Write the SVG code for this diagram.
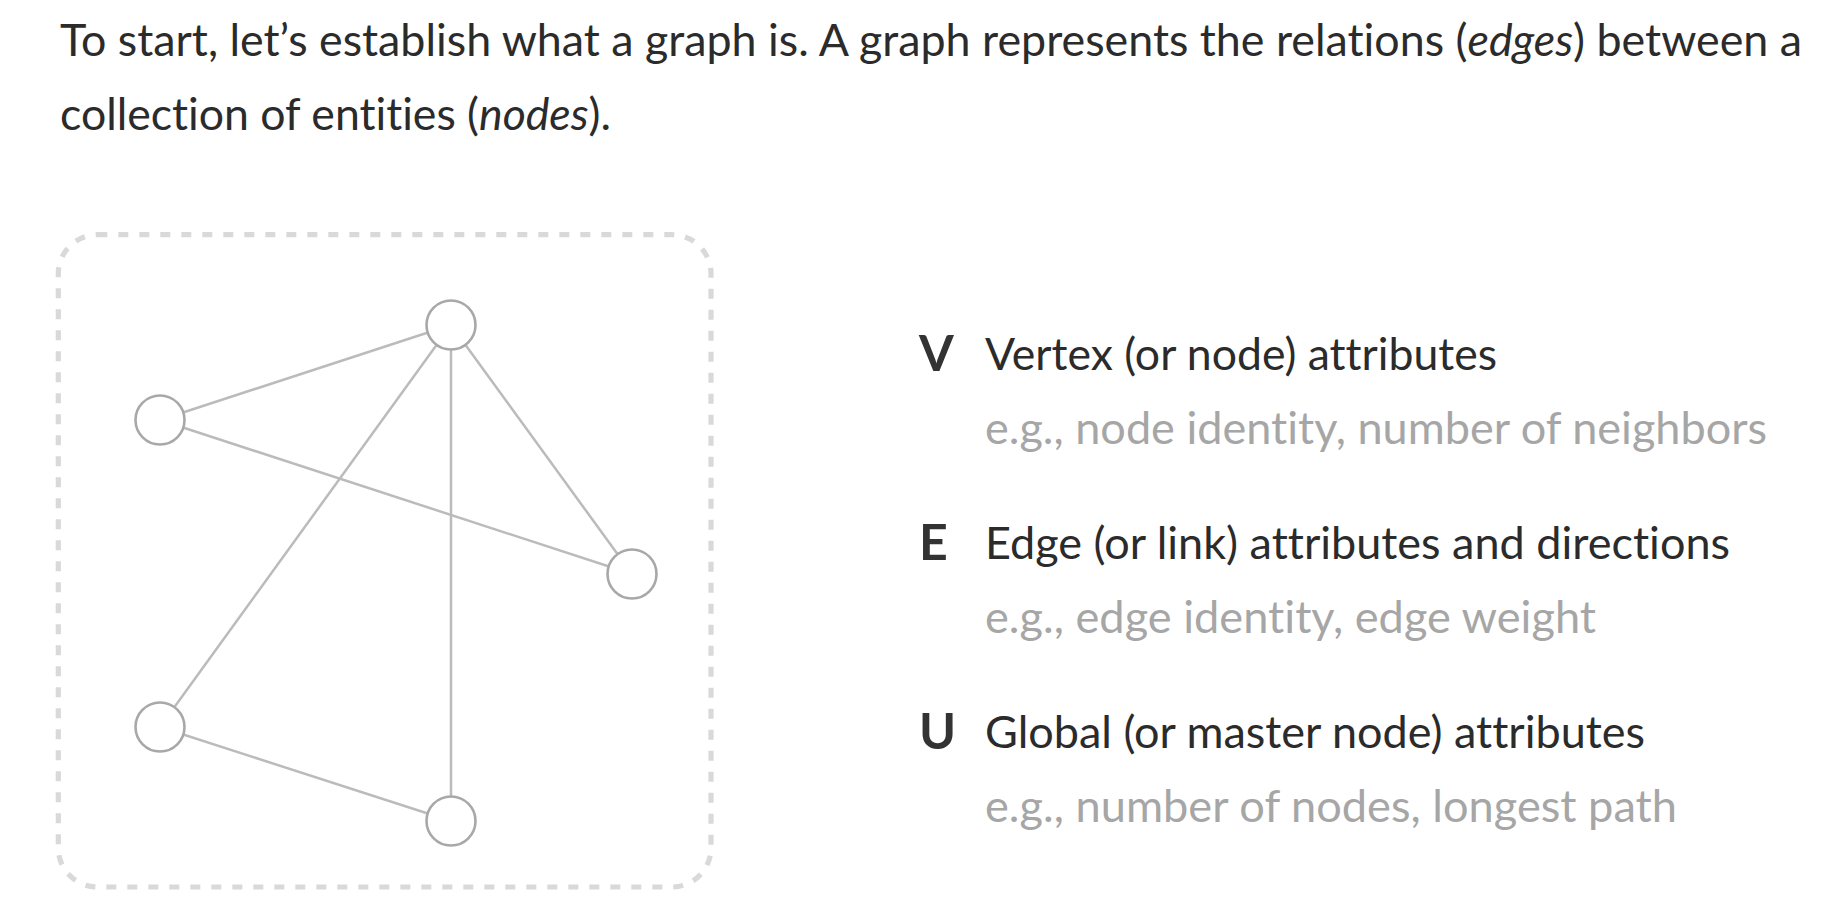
<svg xmlns="http://www.w3.org/2000/svg" width="1842" height="907" viewBox="0 0 1842 907">
  <style>
    text { font-variant-ligatures: none; font-feature-settings: "liga" 0, "clig" 0; }
    .body { font-family: Lato, "Open Sans", "Noto Sans", sans-serif; font-size: 44px; fill: #2b2b2b; }
    .hint { font-family: Lato, "Open Sans", "Noto Sans", sans-serif; font-size: 44px; fill: #a6a6a6; }
    .key { font-family: Lato, "Open Sans", "Noto Sans", sans-serif; font-size: 50px; font-weight: bold; fill: #333333; }
    .em { font-style: italic; }
    .frame { fill: none; stroke: #d9d9d9; stroke-width: 5.2; stroke-dasharray: 10 11; }
    .edge { stroke: #bbbbbb; stroke-width: 2.5; fill: none; }
    .node { fill: #ffffff; stroke: #a8a8a8; stroke-width: 2.6; }
  </style>
  <rect width="1842" height="907" fill="#ffffff"/>

  <g id="intro">
    <text class="body" x="60" y="56" textLength="1742" lengthAdjust="spacingAndGlyphs">To start, let’s establish what a graph is. A graph represents the relations (<tspan class="em">edges</tspan>) between a</text>
    <text class="body" x="60" y="130" textLength="551" lengthAdjust="spacingAndGlyphs">collection of entities (<tspan class="em">nodes</tspan>).</text>
  </g>

  <rect id="graph-frame" class="frame" x="58.3" y="234.7" width="652.7" height="652.3" rx="39" ry="39"/>

  <g id="edges">
    <line class="edge" x1="451" y1="325" x2="160" y2="420"/>
    <line class="edge" x1="160" y1="420" x2="632" y2="574"/>
    <line class="edge" x1="451" y1="325" x2="632" y2="574"/>
    <line class="edge" x1="451" y1="325" x2="160" y2="727"/>
    <line class="edge" x1="451" y1="325" x2="451" y2="821"/>
    <line class="edge" x1="160" y1="727" x2="451" y2="821"/>
  </g>

  <g id="node-top"><circle class="node" cx="451" cy="325" r="24.5"/></g>
  <g id="node-left"><circle class="node" cx="160" cy="420" r="24.5"/></g>
  <g id="node-right"><circle class="node" cx="632" cy="574" r="24.5"/></g>
  <g id="node-bottom-left"><circle class="node" cx="160" cy="727" r="24.5"/></g>
  <g id="node-bottom"><circle class="node" cx="451" cy="821" r="24.5"/></g>

  <g id="legend-v">
    <text class="key" x="919" y="371">V</text>
    <text class="body" x="985" y="370" textLength="512" lengthAdjust="spacingAndGlyphs">Vertex (or node) attributes</text>
    <text class="hint" x="985" y="444" textLength="782" lengthAdjust="spacingAndGlyphs">e.g., node identity, number of neighbors</text>
  </g>
  <g id="legend-e">
    <text class="key" x="919" y="560">E</text>
    <text class="body" x="985" y="559" textLength="745" lengthAdjust="spacingAndGlyphs">Edge (or link) attributes and directions</text>
    <text class="hint" x="985" y="633" textLength="611" lengthAdjust="spacingAndGlyphs">e.g., edge identity, edge weight</text>
  </g>
  <g id="legend-u">
    <text class="key" x="919" y="749">U</text>
    <text class="body" x="985" y="748" textLength="660" lengthAdjust="spacingAndGlyphs">Global (or master node) attributes</text>
    <text class="hint" x="985" y="822" textLength="692" lengthAdjust="spacingAndGlyphs">e.g., number of nodes, longest path</text>
  </g>
</svg>
